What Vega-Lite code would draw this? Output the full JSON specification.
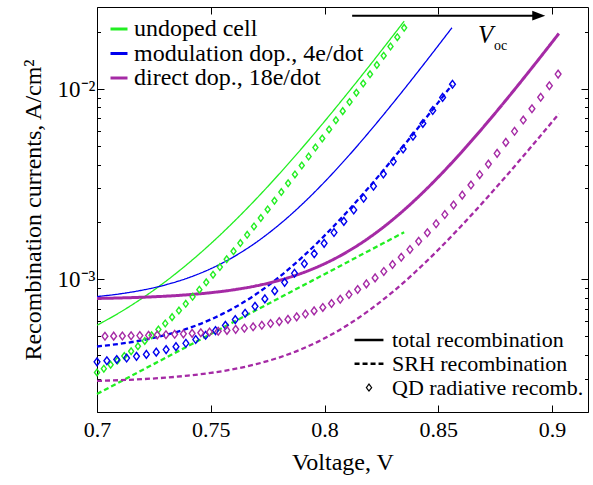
{
"$schema": "https://vega.github.io/schema/vega-lite/v6.json",
"width": 491, "height": 405,
"autosize": "none",
"padding": {"left": 97, "top": 7, "right": 5, "bottom": 73},
"background": "white",
"config": {
  "font": "Liberation Serif",
  "view": {"stroke": null},
  "axis": {"domainColor": "black", "tickColor": "black", "labelColor": "black", "titleColor": "black", "grid": false, "labelFont": "Liberation Serif", "titleFont": "Liberation Serif", "labelFontSize": 22, "titleFontSize": 24, "titleFontWeight": "normal", "domainWidth": 1, "tickWidth": 1, "labelFlush": false, "labelOverlap": false},
  "legend": {"labelFont": "Liberation Serif", "labelColor": "black", "padding": 0, "labelLimit": 0}
},
"datasets": {
"lines": [
{"s":"u","t":"total","V":0.70,"I":0.0005719},{"s":"u","t":"total","V":0.71,"I":0.0006676},{"s":"u","t":"total","V":0.72,"I":0.0007957},{"s":"u","t":"total","V":0.73,"I":0.0009691},{"s":"u","t":"total","V":0.74,"I":0.0012068},{"s":"u","t":"total","V":0.75,"I":0.001536},{"s":"u","t":"total","V":0.76,"I":0.0019963},{"s":"u","t":"total","V":0.77,"I":0.002645},{"s":"u","t":"total","V":0.78,"I":0.003564},{"s":"u","t":"total","V":0.79,"I":0.004875},{"s":"u","t":"total","V":0.80,"I":0.006756},{"s":"u","t":"total","V":0.81,"I":0.009461},{"s":"u","t":"total","V":0.82,"I":0.013365},{"s":"u","t":"total","V":0.83,"I":0.019018},{"s":"u","t":"total","V":0.835,"I":0.022733},
{"s":"u","t":"SRH","V":0.70,"I":0.0002489},{"s":"u","t":"SRH","V":0.71,"I":0.0002877},{"s":"u","t":"SRH","V":0.72,"I":0.0003327},{"s":"u","t":"SRH","V":0.73,"I":0.0003846},{"s":"u","t":"SRH","V":0.74,"I":0.0004446},{"s":"u","t":"SRH","V":0.75,"I":0.000514},{"s":"u","t":"SRH","V":0.76,"I":0.0005943},{"s":"u","t":"SRH","V":0.77,"I":0.0006871},{"s":"u","t":"SRH","V":0.78,"I":0.0007943},{"s":"u","t":"SRH","V":0.79,"I":0.0009183},{"s":"u","t":"SRH","V":0.80,"I":0.0010617},{"s":"u","t":"SRH","V":0.81,"I":0.0012274},{"s":"u","t":"SRH","V":0.82,"I":0.0014191},{"s":"u","t":"SRH","V":0.83,"I":0.0016406},{"s":"u","t":"SRH","V":0.835,"I":0.001764},
{"s":"m","t":"total","V":0.70,"I":0.0008093},{"s":"m","t":"total","V":0.71,"I":0.0008362},{"s":"m","t":"total","V":0.72,"I":0.0008752},{"s":"m","t":"total","V":0.73,"I":0.000932},{"s":"m","t":"total","V":0.74,"I":0.0010145},{"s":"m","t":"total","V":0.75,"I":0.0011343},{"s":"m","t":"total","V":0.76,"I":0.0013086},{"s":"m","t":"total","V":0.77,"I":0.0015618},{"s":"m","t":"total","V":0.78,"I":0.0019299},{"s":"m","t":"total","V":0.79,"I":0.002465},{"s":"m","t":"total","V":0.80,"I":0.0032429},{"s":"m","t":"total","V":0.81,"I":0.0043735},{"s":"m","t":"total","V":0.82,"I":0.0060172},{"s":"m","t":"total","V":0.83,"I":0.0084069},{"s":"m","t":"total","V":0.84,"I":0.011881},{"s":"m","t":"total","V":0.85,"I":0.016932},{"s":"m","t":"total","V":0.856,"I":0.021004},
{"s":"m","t":"SRH","V":0.70,"I":0.0004422},{"s":"m","t":"SRH","V":0.71,"I":0.0004566},{"s":"m","t":"SRH","V":0.72,"I":0.0004773},{"s":"m","t":"SRH","V":0.73,"I":0.0005073},{"s":"m","t":"SRH","V":0.74,"I":0.0005506},{"s":"m","t":"SRH","V":0.75,"I":0.0006132},{"s":"m","t":"SRH","V":0.76,"I":0.0007038},{"s":"m","t":"SRH","V":0.77,"I":0.0008346},{"s":"m","t":"SRH","V":0.78,"I":0.0010238},{"s":"m","t":"SRH","V":0.79,"I":0.0012972},{"s":"m","t":"SRH","V":0.80,"I":0.0016925},{"s":"m","t":"SRH","V":0.81,"I":0.0022637},{"s":"m","t":"SRH","V":0.82,"I":0.0030894},{"s":"m","t":"SRH","V":0.83,"I":0.004283},{"s":"m","t":"SRH","V":0.84,"I":0.0060082},{"s":"m","t":"SRH","V":0.85,"I":0.008502},{"s":"m","t":"SRH","V":0.856,"I":0.010503},
{"s":"d","t":"total","V":0.70,"I":0.0007911},{"s":"d","t":"total","V":0.71,"I":0.000796},{"s":"d","t":"total","V":0.72,"I":0.000803},{"s":"d","t":"total","V":0.73,"I":0.0008131},{"s":"d","t":"total","V":0.74,"I":0.0008276},{"s":"d","t":"total","V":0.75,"I":0.0008484},{"s":"d","t":"total","V":0.76,"I":0.0008785},{"s":"d","t":"total","V":0.77,"I":0.0009219},{"s":"d","t":"total","V":0.78,"I":0.0009844},{"s":"d","t":"total","V":0.79,"I":0.0010745},{"s":"d","t":"total","V":0.80,"I":0.0012046},{"s":"d","t":"total","V":0.81,"I":0.0013925},{"s":"d","t":"total","V":0.82,"I":0.0016637},{"s":"d","t":"total","V":0.83,"I":0.0020556},{"s":"d","t":"total","V":0.84,"I":0.002622},{"s":"d","t":"total","V":0.85,"I":0.0034409},{"s":"d","t":"total","V":0.86,"I":0.0046252},{"s":"d","t":"total","V":0.87,"I":0.0063389},{"s":"d","t":"total","V":0.88,"I":0.0088194},{"s":"d","t":"total","V":0.89,"I":0.012411},{"s":"d","t":"total","V":0.90,"I":0.017614},{"s":"d","t":"total","V":0.903,"I":0.019588},
{"s":"d","t":"SRH","V":0.70,"I":0.0002914},{"s":"d","t":"SRH","V":0.71,"I":0.0002941},{"s":"d","t":"SRH","V":0.72,"I":0.0002978},{"s":"d","t":"SRH","V":0.73,"I":0.0003031},{"s":"d","t":"SRH","V":0.74,"I":0.0003106},{"s":"d","t":"SRH","V":0.75,"I":0.0003211},{"s":"d","t":"SRH","V":0.76,"I":0.000336},{"s":"d","t":"SRH","V":0.77,"I":0.0003571},{"s":"d","t":"SRH","V":0.78,"I":0.0003868},{"s":"d","t":"SRH","V":0.79,"I":0.0004288},{"s":"d","t":"SRH","V":0.80,"I":0.0004881},{"s":"d","t":"SRH","V":0.81,"I":0.0005719},{"s":"d","t":"SRH","V":0.82,"I":0.0006902},{"s":"d","t":"SRH","V":0.83,"I":0.0008574},{"s":"d","t":"SRH","V":0.84,"I":0.0010936},{"s":"d","t":"SRH","V":0.85,"I":0.0014272},{"s":"d","t":"SRH","V":0.86,"I":0.0018983},{"s":"d","t":"SRH","V":0.87,"I":0.0025639},{"s":"d","t":"SRH","V":0.88,"I":0.0035041},{"s":"d","t":"SRH","V":0.89,"I":0.0048321},{"s":"d","t":"SRH","V":0.90,"I":0.006708},{"s":"d","t":"SRH","V":0.903,"I":0.0074085}
],
"pts": [
{"s":"u","V":0.700,"I":0.000323},{"s":"u","V":0.703,"I":0.0003379},{"s":"u","V":0.706,"I":0.0003545},{"s":"u","V":0.709,"I":0.0003731},{"s":"u","V":0.712,"I":0.0003941},{"s":"u","V":0.715,"I":0.0004175},{"s":"u","V":0.718,"I":0.0004437},{"s":"u","V":0.721,"I":0.0004732},{"s":"u","V":0.724,"I":0.0005061},{"s":"u","V":0.727,"I":0.0005431},{"s":"u","V":0.730,"I":0.0005845},{"s":"u","V":0.733,"I":0.000631},{"s":"u","V":0.736,"I":0.000683},{"s":"u","V":0.739,"I":0.0007413},{"s":"u","V":0.742,"I":0.0008067},{"s":"u","V":0.745,"I":0.0008799},{"s":"u","V":0.748,"I":0.000962},{"s":"u","V":0.751,"I":0.001054},{"s":"u","V":0.754,"I":0.0011571},{"s":"u","V":0.757,"I":0.0012727},{"s":"u","V":0.760,"I":0.0014022},{"s":"u","V":0.763,"I":0.0015474},{"s":"u","V":0.766,"I":0.0017101},{"s":"u","V":0.769,"I":0.0018924},{"s":"u","V":0.772,"I":0.0020968},{"s":"u","V":0.775,"I":0.0023258},{"s":"u","V":0.778,"I":0.0025824},{"s":"u","V":0.781,"I":0.0028701},{"s":"u","V":0.784,"I":0.0031924},{"s":"u","V":0.787,"I":0.0035538},{"s":"u","V":0.790,"I":0.0039587},{"s":"u","V":0.793,"I":0.0044127},{"s":"u","V":0.796,"I":0.0049214},{"s":"u","V":0.799,"I":0.0054914},{"s":"u","V":0.802,"I":0.0061302},{"s":"u","V":0.805,"I":0.0068462},{"s":"u","V":0.808,"I":0.0076487},{"s":"u","V":0.811,"I":0.0085482},{"s":"u","V":0.814,"I":0.0095561},{"s":"u","V":0.817,"I":0.010686},{"s":"u","V":0.820,"I":0.011952},{"s":"u","V":0.823,"I":0.013371},{"s":"u","V":0.826,"I":0.014961},{"s":"u","V":0.829,"I":0.016743},{"s":"u","V":0.832,"I":0.018741},{"s":"u","V":0.835,"I":0.02098},
{"s":"m","V":0.7,"I":0.0003671},{"s":"m","V":0.70434,"I":0.000372},{"s":"m","V":0.70868,"I":0.0003777},{"s":"m","V":0.71302,"I":0.0003844},{"s":"m","V":0.71736,"I":0.0003924},{"s":"m","V":0.7217,"I":0.0004018},{"s":"m","V":0.72604,"I":0.0004129},{"s":"m","V":0.73038,"I":0.0004259},{"s":"m","V":0.73472,"I":0.0004413},{"s":"m","V":0.73906,"I":0.0004595},{"s":"m","V":0.7434,"I":0.0004809},{"s":"m","V":0.74774,"I":0.0005062},{"s":"m","V":0.75208,"I":0.000536},{"s":"m","V":0.75642,"I":0.0005711},{"s":"m","V":0.76076,"I":0.0006125},{"s":"m","V":0.7651,"I":0.0006614},{"s":"m","V":0.76944,"I":0.000719},{"s":"m","V":0.77378,"I":0.0007869},{"s":"m","V":0.77812,"I":0.0008671},{"s":"m","V":0.78246,"I":0.0009616},{"s":"m","V":0.7868,"I":0.001073},{"s":"m","V":0.79114,"I":0.0012044},{"s":"m","V":0.79548,"I":0.0013593},{"s":"m","V":0.79982,"I":0.0015421},{"s":"m","V":0.80416,"I":0.0017575},{"s":"m","V":0.8085,"I":0.0020116},{"s":"m","V":0.81284,"I":0.0023113},{"s":"m","V":0.81718,"I":0.0026646},{"s":"m","V":0.82152,"I":0.0030814},{"s":"m","V":0.82586,"I":0.0035728},{"s":"m","V":0.8302,"I":0.0041523},{"s":"m","V":0.83454,"I":0.0048357},{"s":"m","V":0.83888,"I":0.0056416},{"s":"m","V":0.84322,"I":0.0065919},{"s":"m","V":0.84756,"I":0.0077126},{"s":"m","V":0.8519,"I":0.0090342},{"s":"m","V":0.85624,"I":0.010593},
{"s":"d","V":0.7035,"I":0.0005004},{"s":"d","V":0.70733,"I":0.0005013},{"s":"d","V":0.71116,"I":0.0005022},{"s":"d","V":0.71499,"I":0.0005034},{"s":"d","V":0.71882,"I":0.0005047},{"s":"d","V":0.72265,"I":0.0005063},{"s":"d","V":0.72648,"I":0.0005081},{"s":"d","V":0.73031,"I":0.0005101},{"s":"d","V":0.73414,"I":0.0005125},{"s":"d","V":0.73797,"I":0.0005153},{"s":"d","V":0.7418,"I":0.0005185},{"s":"d","V":0.74563,"I":0.0005223},{"s":"d","V":0.74946,"I":0.0005266},{"s":"d","V":0.75329,"I":0.0005316},{"s":"d","V":0.75712,"I":0.0005375},{"s":"d","V":0.76095,"I":0.0005442},{"s":"d","V":0.76478,"I":0.000552},{"s":"d","V":0.76861,"I":0.0005611},{"s":"d","V":0.77244,"I":0.0005716},{"s":"d","V":0.77627,"I":0.0005837},{"s":"d","V":0.7801,"I":0.0005978},{"s":"d","V":0.78393,"I":0.0006141},{"s":"d","V":0.78776,"I":0.000633},{"s":"d","V":0.79159,"I":0.000655},{"s":"d","V":0.79542,"I":0.0006804},{"s":"d","V":0.79925,"I":0.0007098},{"s":"d","V":0.80308,"I":0.0007439},{"s":"d","V":0.80691,"I":0.0007834},{"s":"d","V":0.81074,"I":0.0008292},{"s":"d","V":0.81457,"I":0.0008823},{"s":"d","V":0.8184,"I":0.0009438},{"s":"d","V":0.82223,"I":0.001015},{"s":"d","V":0.82606,"I":0.0010976},{"s":"d","V":0.82989,"I":0.0011933},{"s":"d","V":0.83372,"I":0.0013041},{"s":"d","V":0.83755,"I":0.0014326},{"s":"d","V":0.84138,"I":0.0015815},{"s":"d","V":0.84521,"I":0.001754},{"s":"d","V":0.84904,"I":0.0019539},{"s":"d","V":0.85287,"I":0.0021856},{"s":"d","V":0.8567,"I":0.002454},{"s":"d","V":0.86053,"I":0.002765},{"s":"d","V":0.86436,"I":0.0031255},{"s":"d","V":0.86819,"I":0.0035432},{"s":"d","V":0.87202,"I":0.0040271},{"s":"d","V":0.87585,"I":0.004588},{"s":"d","V":0.87968,"I":0.0052379},{"s":"d","V":0.88351,"I":0.005991},{"s":"d","V":0.88734,"I":0.0068636},{"s":"d","V":0.89117,"I":0.0078748},{"s":"d","V":0.895,"I":0.0090465},{"s":"d","V":0.89883,"I":0.010404},{"s":"d","V":0.90266,"I":0.011978}
],
"arrow": [{"V1": 0.81214, "V2": 0.8917, "Vh": 0.89415, "I": 0.02431}],
"voc": [{"V": 0.87084, "I": 0.01931, "Vs": 0.87744, "Is": 0.0169, "main": "V", "sub": "oc"}]
},
"layer": [
{
  "data": {"name": "lines"},
  "mark": {"type": "line", "interpolate": "monotone"},
  "encoding": {
    "x": {"field": "V", "type": "quantitative", "scale": {"domain": [0.7, 0.9158], "nice": false, "zero": false},
      "axis": {"orient": "bottom", "values": [0.7, 0.75, 0.8, 0.85, 0.9], "format": "~g", "tickSize": -7, "labelPadding": 14, "labelFont": "Liberation Serif", "labelFontSize": 22, "title": "Voltage, V", "titleFont": "Liberation Serif", "titlePadding": 10}},
    "y": {"field": "I", "type": "quantitative", "scale": {"type": "log", "domain": [0.0002, 0.027], "nice": false},
      "axis": {"orient": "left", "values": [0.0002,0.0003,0.0004,0.0005,0.0006,0.0007,0.0008,0.0009,0.001,0.002,0.003,0.004,0.005,0.006,0.007,0.008,0.009,0.01,0.02],
        "labelExpr": "datum.value == 0.001 ? '10⁻³' : datum.value == 0.01 ? '10⁻²' : ''",
        "labelFont": "Liberation Serif", "labelFontSize": 23,
        "tickSize": {"condition": {"test": "datum.value == 0.001 || datum.value == 0.01", "value": -7}, "value": -3.5},
        "labelPadding": 9, "title": "Recombination currents, A/cm²", "titleFont": "Liberation Serif", "titlePadding": 12}},
    "color": {"field": "s", "type": "nominal", "scale": {"domain": ["u", "m", "d"], "range": ["#22ee22", "#0000ee", "#a52aa5"]},
      "legend": {"orient": "none", "legendX": 10, "legendY": 10, "title": null, "direction": "vertical",
        "labelExpr": "datum.value === 'u' ? 'undoped cell' : datum.value === 'm' ? 'modulation dop., 4e/dot' : 'direct dop., 18e/dot'",
        "labelFont": "Liberation Serif", "labelLimit": 0,
        "symbolType": "stroke", "symbolSize": 289, "symbolStrokeWidth": 3, "labelOffset": 3, "rowPadding": 0.5, "labelFontSize": 24}},
    "strokeDash": {"field": "t", "type": "nominal", "scale": {"domain": ["total", "SRH", "QD"], "range": [[1, 0], [5, 3], [1, 0]]},
      "legend": {"orient": "none", "legendX": 261, "legendY": 322, "title": null, "direction": "vertical",
        "labelExpr": "datum.value === 'total' ? 'total recombination' : datum.value === 'SRH' ? 'SRH recombination' : 'QD radiative recomb.'",
        "labelFont": "Liberation Serif", "labelLimit": 0,
        "symbolType": "M -1.7 0 L 1.7 0", "symbolSize": 289, "symbolStrokeWidth": 2.5, "symbolStrokeColor": "black", "labelOffset": 12, "rowPadding": 1.8, "labelFontSize": 22,
        "encode": {"symbols": {"update": {
          "shape": {"signal": "datum.value === 'QD' ? 'M -0.75 0 L 0 -1 L 0.75 0 L 0 1 Z' : 'M -1.7 0 L 1.7 0'"},
          "size": {"signal": "datum.value === 'QD' ? 49 : 289"},
          "strokeWidth": {"signal": "datum.value === 'QD' ? 1.2 : 2.5"},
          "strokeDash": {"signal": "datum.value === 'SRH' ? [7, 3.5] : [1, 0]"},
          "stroke": {"value": "black"},
          "fill": {"value": "transparent"}}}}}},
    "strokeWidth": {"condition": [{"test": "datum.t === 'total' && datum.s === 'd'", "value": 3}, {"test": "datum.t === 'SRH'", "value": 2.3}], "value": 1.3}
  }
},
{
  "data": {"name": "pts"},
  "mark": {"type": "point", "shape": "M -0.75 0 L 0 -1 L 0.75 0 L 0 1 Z", "filled": false, "opacity": 1, "strokeWidth": 1.4},
  "encoding": {
    "x": {"field": "V", "type": "quantitative", "axis": {"orient": "top", "values": [0.7, 0.75, 0.8, 0.85, 0.9], "labels": false, "tickSize": -7, "title": null}},
    "y": {"field": "I", "type": "quantitative", "axis": {"orient": "right", "values": [0.0002,0.0003,0.0004,0.0005,0.0006,0.0007,0.0008,0.0009,0.001,0.002,0.003,0.004,0.005,0.006,0.007,0.008,0.009,0.01,0.02], "labels": false,
        "tickSize": {"condition": {"test": "datum.value == 0.001 || datum.value == 0.01", "value": -7}, "value": -3.5}, "title": null}},
    "color": {"field": "s", "type": "nominal", "legend": null},
    "size": {"condition": {"test": "datum.s === 'u'", "value": 45}, "value": 60}
  }
},
{
  "data": {"name": "arrow"},
  "mark": {"type": "rule", "color": "black", "strokeWidth": 2},
  "encoding": {
    "x": {"field": "V1", "type": "quantitative", "axis": null},
    "x2": {"field": "V2"},
    "y": {"field": "I", "type": "quantitative", "axis": null}
  }
},
{
  "data": {"name": "arrow"},
  "mark": {"type": "point", "shape": "M 1 0 L -1 -0.75 L -1 0.75 Z", "filled": true, "color": "black", "opacity": 1, "size": 169},
  "encoding": {
    "x": {"field": "Vh", "type": "quantitative", "axis": null},
    "y": {"field": "I", "type": "quantitative", "axis": null}
  }
},
{
  "data": {"name": "voc"},
  "mark": {"type": "text", "font": "Liberation Serif", "fontStyle": "italic", "fontSize": 25, "align": "center", "baseline": "middle", "color": "black"},
  "encoding": {
    "x": {"field": "V", "type": "quantitative", "axis": null},
    "y": {"field": "I", "type": "quantitative", "axis": null},
    "text": {"field": "main"}
  }
},
{
  "data": {"name": "voc"},
  "mark": {"type": "text", "font": "Liberation Serif", "fontSize": 14, "align": "center", "baseline": "middle", "color": "black"},
  "encoding": {
    "x": {"field": "Vs", "type": "quantitative", "axis": null},
    "y": {"field": "Is", "type": "quantitative", "axis": null},
    "text": {"field": "sub"}
  }
}
],
"resolve": {"axis": {"x": "independent", "y": "independent"}}
}
